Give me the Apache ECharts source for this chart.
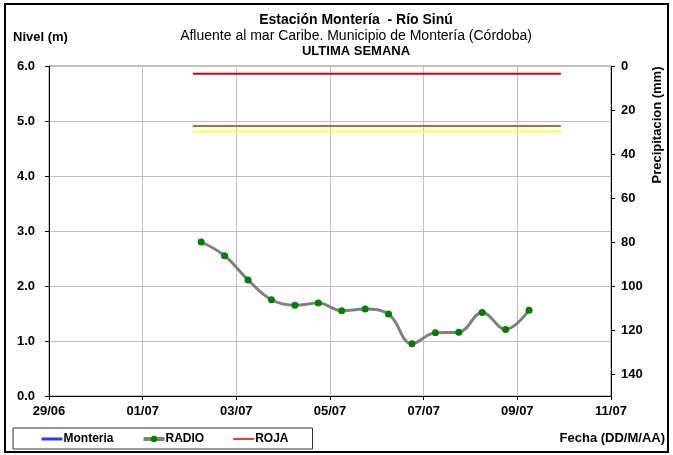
<!DOCTYPE html>
<html>
<head>
<meta charset="utf-8">
<script src="https://cdn.jsdelivr.net/npm/echarts@6/dist/echarts.min.js"></script>
<style>
  html, body { margin: 0; padding: 0; background: #fff; }
  #chart { width: 673px; height: 455px; }
</style>
</head>
<body>
<div id="chart"></div>
<script>
// eje X en días desde 29/06
var xLabels = ['29/06', '01/07', '03/07', '05/07', '07/07', '09/07', '11/07'];

// nivel RADIO (m)
var radioDays = [3.25, 3.75, 4.25, 4.75, 5.25, 5.75, 6.25, 6.75, 7.25, 7.75, 8.25, 8.75, 9.25, 9.75, 10.25];
var radioLevel = [2.80, 2.55, 2.11, 1.75, 1.65, 1.69, 1.55, 1.58, 1.49, 0.95, 1.15, 1.16, 1.52, 1.21, 1.56];

// umbrales
var thresholdDays = [3.07, 10.93];
var rojaLevel = 5.86;
var naranjaLevel = 4.91;
var amarillaLevel = 4.81;

var font = 'Arial, "Liberation Sans", sans-serif';

var chart = echarts.init(document.getElementById('chart'));
var option = {
  animation: false,
  textStyle: { fontFamily: font },
  graphic: [
    {
      type: 'rect',
      shape: { x: 5, y: 4, width: 663, height: 448 },
      style: { fill: null, stroke: '#000', lineWidth: 2 },
      silent: true
    },
    {
      type: 'text', x: 356, y: 20,
      style: { text: 'Estación Montería  - Río Sinú', font: 'bold 14px ' + font, fill: '#000', textAlign: 'center', textVerticalAlign: 'middle' }
    },
    {
      type: 'text', x: 356, y: 36,
      style: { text: 'Afluente al mar Caribe. Municipio de Montería (Córdoba)', font: '14px ' + font, fill: '#000', textAlign: 'center', textVerticalAlign: 'middle' }
    },
    {
      type: 'text', x: 356, y: 51,
      style: { text: 'ULTIMA SEMANA', font: 'bold 13px ' + font, fill: '#000', textAlign: 'center', textVerticalAlign: 'middle' }
    },
    {
      type: 'text', x: 13, y: 37,
      style: { text: 'Nivel (m)', font: 'bold 13px ' + font, fill: '#000', textVerticalAlign: 'middle' }
    },
    {
      type: 'text', x: 665, y: 438,
      style: { text: 'Fecha (DD/M/AA)', font: 'bold 13px ' + font, fill: '#000', textAlign: 'right', textVerticalAlign: 'middle' }
    },
    {
      type: 'text', x: 657, y: 125, rotation: Math.PI / 2,
      style: { text: 'Precipitacion (mm)', font: 'bold 13px ' + font, fill: '#000', textAlign: 'center', textVerticalAlign: 'middle' }
    }
  ],
  legend: {
    left: 13,
    top: 428,
    data: [
      { name: 'Monteria', itemStyle: { opacity: 0 }, lineStyle: { width: 3, color: '#3333ff' } },
      { name: 'RADIO', lineStyle: { width: 4, color: '#808080' } },
      { name: 'ROJA', itemStyle: { opacity: 0 }, lineStyle: { width: 2, color: '#ff3333' } }
    ],
    itemWidth: 21,
    itemHeight: 8,
    itemGap: 28,
    padding: [5, 24, 4, 27],
    borderColor: '#333',
    borderWidth: 1,
    borderRadius: 0,
    textStyle: { fontWeight: 'bold', fontSize: 12, color: '#000', padding: [0, 0, 0, -4] }
  },
  grid: {
    left: 49,
    right: 62,
    top: 66,
    bottom: 59,
    show: true,
    borderColor: '#888',
    borderWidth: 1
  },
  xAxis: {
    type: 'value',
    min: 0,
    max: 12,
    interval: 2,
    axisLine: { lineStyle: { color: '#000', width: 1 } },
    axisTick: { show: true, length: 4, lineStyle: { color: '#000' } },
    axisLabel: {
      color: '#000', fontWeight: 'bold', fontSize: 13, margin: 9,
      formatter: function (v) { return xLabels[Math.round(v / 2)]; }
    },
    splitLine: { show: true, lineStyle: { color: '#c0c0c0', width: 1 } }
  },
  yAxis: [
    {
      type: 'value',
      min: 0,
      max: 6,
      interval: 1,
      axisLine: { show: true, lineStyle: { color: '#000', width: 1 } },
      axisTick: { show: true, length: 4, lineStyle: { color: '#000' } },
      axisLabel: {
        color: '#000', fontWeight: 'bold', fontSize: 13, margin: 14,
        formatter: function (v) { return v.toFixed(1); }
      },
      splitLine: { show: true, lineStyle: { color: '#c0c0c0', width: 1 } }
    },
    {
      type: 'value',
      min: 0,
      max: 150,
      interval: 20,
      inverse: true,
      position: 'right',
      axisLine: { show: true, lineStyle: { color: '#000', width: 1 } },
      axisTick: { show: true, length: 4, lineStyle: { color: '#000' } },
      axisLabel: { color: '#000', fontWeight: 'bold', fontSize: 13, margin: 10, showMaxLabel: false },
      splitLine: { show: false }
    }
  ],
  series: [
    {
      name: 'Monteria',
      type: 'line',
      symbol: 'none',
      color: '#3333ff',
      lineStyle: { width: 3, color: '#3333ff' },
      data: []
    },
    {
      name: 'RADIO',
      type: 'line',
      smooth: 0.4,
      symbol: 'circle',
      symbolSize: 7,
      color: '#008000',
      itemStyle: { color: '#008000' },
      lineStyle: { width: 3, color: '#808080' },
      z: 5,
      data: radioDays.map(function (d, i) { return [d, radioLevel[i]]; })
    },
    {
      name: 'ROJA',
      type: 'line',
      symbol: 'none',
      color: '#ff3333',
      lineStyle: { width: 2, color: '#e00000' },
      data: thresholdDays.map(function (d) { return [d, rojaLevel]; })
    },
    {
      name: 'NARANJA',
      type: 'line',
      symbol: 'none',
      lineStyle: { width: 2, color: '#a87040' },
      data: thresholdDays.map(function (d) { return [d, naranjaLevel]; })
    },
    {
      name: 'AMARILLA',
      type: 'line',
      symbol: 'none',
      lineStyle: { width: 2, color: '#ffff33' },
      data: thresholdDays.map(function (d) { return [d, amarillaLevel]; })
    }
  ]
};
chart.setOption(option);
</script>
</body>
</html>
